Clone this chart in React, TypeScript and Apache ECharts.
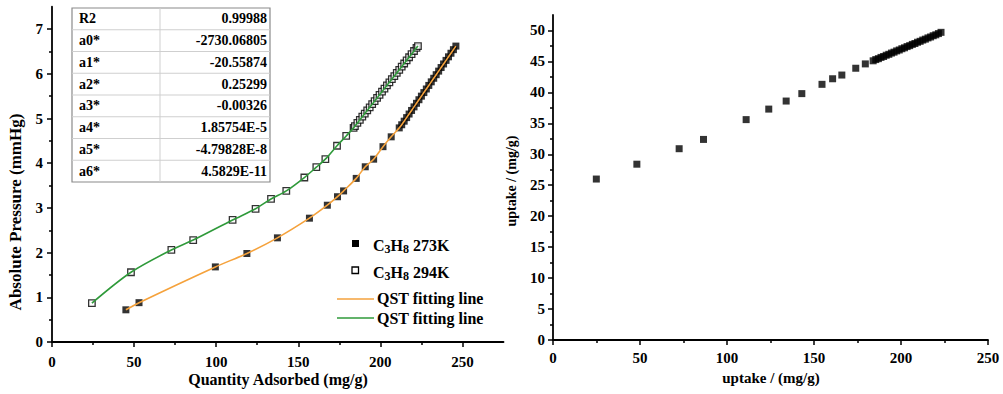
import React, { useEffect, useRef } from "react";
import * as echarts from "echarts";

// ---- data ----
const x273 = [45, 53, 99.5, 118.7, 137.3, 156.8, 167.7, 173.9, 177.6, 185.3, 190.8, 195.9, 201.6, 206.6, 211.5, 213, 214.5, 216, 217.5, 219, 220.5, 222, 223.5, 225, 226.5, 228, 229.5, 231, 232.5, 234, 235.5, 237, 238.5, 240, 241.5, 243, 244.5, 246];
const y273 = [0.72, 0.88, 1.68, 1.98, 2.33, 2.77, 3.06, 3.25, 3.38, 3.66, 3.92, 4.09, 4.37, 4.59, 4.79, 4.86, 4.94, 5.02, 5.1, 5.18, 5.26, 5.34, 5.42, 5.5, 5.58, 5.66, 5.74, 5.82, 5.9, 5.98, 6.06, 6.14, 6.22, 6.3, 6.38, 6.46, 6.54, 6.62];
const x294 = [24.3, 48.1, 72.7, 86, 110, 124, 133.4, 142.7, 153.7, 161, 166.5, 173.6, 179.2, 183.7, 184.5, 186, 187.5, 189, 190.5, 192, 193.5, 195, 196.5, 198, 199.5, 201, 202.5, 204, 205.5, 207, 208.5, 210, 211.5, 213, 214.5, 216, 217.5, 219, 220.5, 222, 222.9];
const y294 = [0.87, 1.56, 2.06, 2.28, 2.73, 2.98, 3.2, 3.38, 3.68, 3.91, 4.09, 4.39, 4.61, 4.79, 4.83, 4.9, 4.97, 5.04, 5.11, 5.18, 5.25, 5.32, 5.39, 5.46, 5.53, 5.6, 5.67, 5.74, 5.81, 5.88, 5.95, 6.02, 6.09, 6.16, 6.23, 6.3, 6.37, 6.44, 6.51, 6.58, 6.62];
const uptakeX = [24.9, 48.2, 72.5, 86.5, 111, 124, 134, 143, 154.6, 160.7, 166, 174, 179.5, 184, 185.5, 187, 188.5, 190, 191.5, 193, 194.5, 196, 197.5, 199, 200.5, 202, 203.5, 205, 206.5, 208, 209.5, 211, 212.5, 214, 215.5, 217, 218.5, 220, 221.5, 223];
const uptakeY = [26.0, 28.4, 30.9, 32.4, 35.6, 37.3, 38.6, 39.8, 41.3, 42.2, 42.8, 43.9, 44.6, 45.1, 45.3, 45.45, 45.65, 45.8, 46.0, 46.15, 46.35, 46.5, 46.7, 46.85, 47.05, 47.2, 47.4, 47.55, 47.75, 47.9, 48.1, 48.25, 48.45, 48.6, 48.8, 48.95, 49.15, 49.3, 49.5, 49.7];

const tableNames = ["R2", "a0*", "a1*", "a2*", "a3*", "a4*", "a5*", "a6*"];
const tableValues = ["0.99988", "-2730.06805", "-20.55874", "0.25299", "-0.00326", "1.85754E-5", "-4.79828E-8", "4.5829E-11"];

const leftXTicks = [0, 50, 100, 150, 200, 250];
const leftXMinor = [25, 75, 125, 175, 225];
const leftYTicks = [0, 1, 2, 3, 4, 5, 6, 7];
const leftYMinor = [0.5, 1.5, 2.5, 3.5, 4.5, 5.5, 6.5];
const rightXTicks = [0, 50, 100, 150, 200, 250];
const rightXMinor = [25, 75, 125, 175, 225];
const rightYTicks = [0, 5, 10, 15, 20, 25, 30, 35, 40, 45, 50];
const rightYMinor = [2.5, 7.5, 12.5, 17.5, 22.5, 27.5, 32.5, 37.5, 42.5, 47.5];

const FONT = '"Liberation Serif", "Times New Roman", serif';
const ORANGE = "#F5A23C";
const GREEN = "#2F9A3A";

const zip = (a: number[], b: number[]) => a.map((v, i) => [v, b[i]]);

function mainAxis(kind: "x" | "y", grid: number, min: number, max: number, ticks: number[], margin: number) {
  return {
    type: "value",
    gridIndex: grid,
    position: kind === "x" ? "bottom" : "left",
    min,
    max,
    splitLine: { show: false },
    axisLine: { show: true, onZero: false, lineStyle: { color: "#000", width: 1.8 } },
    axisTick: { show: true, length: 5, customValues: ticks, lineStyle: { color: "#000", width: 1.5 } },
    axisLabel: {
      show: true,
      customValues: ticks,
      margin,
      color: "#000",
      fontFamily: FONT,
      fontWeight: "bold",
      fontSize: 15,
    },
  };
}

function minorAxis(kind: "x" | "y", grid: number, min: number, max: number, ticks: number[]) {
  return {
    type: "value",
    gridIndex: grid,
    position: kind === "x" ? "bottom" : "left",
    min,
    max,
    splitLine: { show: false },
    axisLine: { show: false, onZero: false },
    axisTick: { show: true, length: 3, customValues: ticks, lineStyle: { color: "#000", width: 1.5 } },
    axisLabel: { show: false },
  };
}

function txt(text: string, x: number, y: number, size: number, align: string, extra: any = {}) {
  return {
    type: "text",
    x,
    y,
    z: 12,
    ...extra,
    style: {
      text,
      fontFamily: FONT,
      fontWeight: "bold",
      fontSize: size,
      fill: "#000",
      align,
      verticalAlign: "middle",
      textAlign: align,
      textVerticalAlign: "middle",
    },
  };
}

function buildGraphic() {
  const els: any[] = [];
  // table
  const tx = 72, ty = 8, tw = 198, th = 174;
  const rh = th / tableNames.length;
  els.push({ type: "rect", shape: { x: tx, y: ty, width: tw, height: th }, style: { fill: "#fff", stroke: "#8a8a8a", lineWidth: 1.2 }, z: 10 });
  for (let i = 1; i < tableNames.length; i++) {
    els.push({ type: "line", shape: { x1: tx, y1: ty + rh * i, x2: tx + tw, y2: ty + rh * i }, style: { stroke: "#cfcfcf", lineWidth: 1 }, z: 11 });
  }
  els.push({ type: "line", shape: { x1: 160, y1: ty, x2: 160, y2: ty + th }, style: { stroke: "#cfcfcf", lineWidth: 1 }, z: 11 });
  tableNames.forEach((n, i) => {
    els.push(txt(n, 79, ty + rh * (i + 0.5), 14, "left"));
    els.push(txt(tableValues[i], 267, ty + rh * (i + 0.5), 14, "right"));
  });
  // legend
  const rich = {
    n: { fontFamily: FONT, fontWeight: "bold", fontSize: 16, lineHeight: 20, verticalAlign: "middle", fill: "#000", color: "#000" },
    s: { fontFamily: FONT, fontWeight: "bold", fontSize: 12, lineHeight: 12, verticalAlign: "bottom", fill: "#000", color: "#000" },
  };
  els.push({ type: "rect", shape: { x: 352, y: 240, width: 7, height: 7 }, style: { fill: "#000" }, z: 10 });
  els.push({ type: "rect", shape: { x: 352, y: 267, width: 6.5, height: 6.5 }, style: { fill: "#fff", stroke: "#000", lineWidth: 1.3 }, z: 10 });
  els.push({ type: "text", x: 373, y: 245, z: 10, style: { text: "{n|C}{s|3}{n|H}{s|8}{n| 273K}", rich, align: "left", verticalAlign: "middle", textAlign: "left", textVerticalAlign: "middle" } });
  els.push({ type: "text", x: 373, y: 272, z: 10, style: { text: "{n|C}{s|3}{n|H}{s|8}{n| 294K}", rich, align: "left", verticalAlign: "middle", textAlign: "left", textVerticalAlign: "middle" } });
  els.push({ type: "line", shape: { x1: 337, y1: 299, x2: 374, y2: 299 }, style: { stroke: ORANGE, lineWidth: 1.6 }, z: 10 });
  els.push({ type: "line", shape: { x1: 337, y1: 318, x2: 374, y2: 318 }, style: { stroke: GREEN, lineWidth: 1.6 }, z: 10 });
  els.push(txt("QST fitting line", 377, 298, 16, "left"));
  els.push(txt("QST fitting line", 377, 318, 16, "left"));
  // axis names
  els.push(txt("Absolute Pressure (mmHg)", 15, 212, 17, "center", { rotation: Math.PI / 2 }));
  els.push(txt("Quantity Adsorbed (mg/g)", 278, 379, 16, "center"));
  els.push(txt("uptake / (mg/g)", 771, 378, 15, "center"));
  els.push(txt("uptake / (mg/g)", 511, 181, 14, "center", { rotation: Math.PI / 2 }));
  return els;
}

export default function App() {
  const ref = useRef<HTMLDivElement>(null);
  useEffect(() => {
    if (!ref.current) return;
    const chart = echarts.init(ref.current, undefined, { renderer: "svg" });
    chart.setOption({
      animation: false,
      backgroundColor: "#fff",
      grid: [
        { left: 52, top: 6.75, width: 451.5, height: 335.25, containLabel: false },
        { left: 553, top: 15, width: 435, height: 325, containLabel: false },
      ],
      xAxis: [
        mainAxis("x", 0, 0, 275, leftXTicks, 12),
        minorAxis("x", 0, 0, 275, leftXMinor),
        mainAxis("x", 1, 0, 250, rightXTicks, 10),
        minorAxis("x", 1, 0, 250, rightXMinor),
      ],
      yAxis: [
        mainAxis("y", 0, 0, 7.5, leftYTicks, 9),
        minorAxis("y", 0, 0, 7.5, leftYMinor),
        mainAxis("y", 1, 0, 52.5, rightYTicks, 8),
        minorAxis("y", 1, 0, 52.5, rightYMinor),
      ],
      series: [
        {
          name: "C3H8 273K",
          type: "scatter",
          xAxisIndex: 0,
          yAxisIndex: 0,
          data: zip(x273, y273),
          symbol: "rect",
          symbolSize: 7,
          itemStyle: { color: "#000" },
          z: 3,
        },
        {
          name: "QST fitting line 273K",
          type: "line",
          xAxisIndex: 0,
          yAxisIndex: 0,
          data: zip(x273, y273),
          showSymbol: false,
          symbol: "none",
          smooth: 0.3,
          lineStyle: { color: ORANGE, width: 1.6 },
          z: 4,
        },
        {
          name: "QST fitting line 294K",
          type: "line",
          xAxisIndex: 0,
          yAxisIndex: 0,
          data: zip(x294, y294),
          showSymbol: false,
          symbol: "none",
          smooth: 0.3,
          lineStyle: { color: GREEN, width: 1.6 },
          z: 4,
        },
        {
          name: "C3H8 294K",
          type: "scatter",
          xAxisIndex: 0,
          yAxisIndex: 0,
          data: zip(x294, y294),
          symbol: "rect",
          symbolSize: 6.5,
          itemStyle: { color: "#fff", borderColor: "#000", borderWidth: 1.3 },
          z: 3,
        },
        {
          name: "uptake",
          type: "scatter",
          xAxisIndex: 2,
          yAxisIndex: 2,
          data: zip(uptakeX, uptakeY),
          symbol: "rect",
          symbolSize: 7,
          itemStyle: { color: "#000" },
        },
      ],
      graphic: buildGraphic(),
    });
    return () => chart.dispose();
  }, []);
  return <div ref={ref} style={{ width: 1003, height: 394, position: "absolute", left: 0, top: 0 }} />;
}
